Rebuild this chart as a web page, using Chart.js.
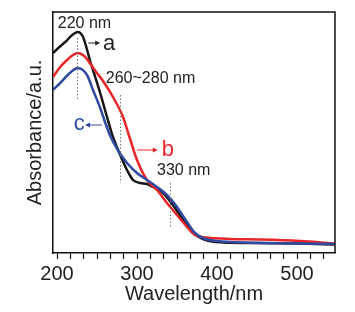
<!DOCTYPE html>
<html>
<head>
<meta charset="utf-8">
<script src="https://cdn.jsdelivr.net/npm/chart.js@4"></script>
<style>
  html, body { margin: 0; padding: 0; background: #fff; }
  #wrap { width: 355px; height: 312px; }
</style>
</head>
<body>
<div id="wrap"><canvas id="uv-chart" width="355" height="312"></canvas></div>
<script>
/* UV-vis absorption spectra, curves a / b / c */

// ---------------------------------------------------------------------------
// Data (y in arbitrary absorbance units)
// ---------------------------------------------------------------------------

const wavelengthA = [195, 203, 211, 219, 226, 232, 237, 241, 245, 254, 262.5, 270, 279, 287.5, 295, 304, 312.5, 320, 332.5, 345, 357.5, 370, 382.5, 397.5, 441, 504, 547.5];
const absorbA     = [200, 206, 211.5, 218, 221, 217, 205, 193, 183, 160, 136, 116, 98, 83, 73, 70, 69, 66, 60, 48, 33, 20, 14, 11, 10, 9.5, 8.5];

const wavelengthB = [195, 204, 212.5, 220, 226, 234, 241, 249, 257.5, 270, 282.5, 291, 300, 312.5, 325, 337.5, 350, 362.5, 372.5, 387.5, 416, 454, 504, 547.5];
const absorbB     = [176, 186, 193, 198, 200, 197, 190, 181, 172, 156, 136, 115, 93, 73, 63, 50, 38, 26, 18, 15.5, 14, 13.5, 12, 9.5];

const wavelengthC = [195, 204, 216, 226, 237.5, 245, 254, 260, 266, 276, 287.5, 300, 312.5, 325, 337.5, 350, 362.5, 372.5, 382.5, 391, 416, 466, 504, 547.5];
const absorbC     = [163, 170, 180, 185, 178, 163, 145, 131, 118, 103, 90, 80, 73, 66, 58, 46, 31, 20, 15, 13, 11, 10, 9.5, 9];

const majorTicks = [200, 300, 400, 500];
const minorStep = 100 / 6;

const FONT = "'Liberation Sans', Arial, Helvetica, sans-serif";

function toPoints(xs, ys) {
    return xs.map((x, i) => ({ x: x, y: ys[i] }));
}

// ---------------------------------------------------------------------------
// Annotation plugin: dotted guide lines, labels, arrows, frame
// ---------------------------------------------------------------------------

const annotations = {
    id: "annotations",
    afterDatasetsDraw(chart) {
        const c = chart.ctx;
        const xs = chart.scales.x;
        const ys = chart.scales.y;
        const X = (v) => xs.getPixelForValue(v);
        const Y = (v) => ys.getPixelForValue(v);
        const area = chart.chartArea;

        c.save();

        // dotted guide lines
        c.strokeStyle = "#777";
        c.lineWidth = 1;
        c.setLineDash([1.5, 2]);
        [[225, 215, 153], [279, 158, 70], [341, 70, 25]].forEach(([x, y0, y1]) => {
            c.beginPath();
            c.moveTo(Math.round(X(x)) + 0.5, Y(y0));
            c.lineTo(Math.round(X(x)) + 0.5, Y(y1));
            c.stroke();
        });
        c.setLineDash([]);

        // wavelength labels
        c.fillStyle = "#222";
        c.font = "16px " + FONT;
        c.textBaseline = "alphabetic";
        c.textAlign = "left";
        c.fillText("220 nm", X(201), Y(225));
        c.fillText("260~280 nm", X(261), Y(170));
        c.fillText("330 nm", X(325), Y(78));

        // arrows (from curve towards label) and curve letters
        function arrow(x0, x1, y, color) {
            const px0 = X(x0), px1 = X(x1), py = Y(y);
            const dir = px1 > px0 ? 1 : -1;
            c.strokeStyle = color;
            c.fillStyle = color;
            c.lineWidth = 1;
            c.beginPath();
            c.moveTo(px0, py);
            c.lineTo(px1 - dir * 4, py);
            c.stroke();
            c.beginPath();
            c.moveTo(px1, py);
            c.lineTo(px1 - dir * 5, py - 2.5);
            c.lineTo(px1 - dir * 5, py + 2.5);
            c.closePath();
            c.fill();
        }

        arrow(239, 254, 210, "#222");
        arrow(300, 326, 103, "#e8262a");
        arrow(256, 235, 128, "#2f4aa0");

        c.font = "22px " + FONT;
        c.fillStyle = "#222";
        c.fillText("a", X(257.5), Y(203));
        c.fillStyle = "#e8262a";
        c.fillText("b", X(331), Y(97));
        c.fillStyle = "#2f4aa0";
        c.fillText("c", X(221), Y(123));

        // top and right frame lines
        c.strokeStyle = "#111";
        c.lineWidth = 1.5;
        c.beginPath();
        c.moveTo(area.left, area.top);
        c.lineTo(area.right, area.top);
        c.lineTo(area.right, area.bottom);
        c.stroke();

        c.restore();
    },
};

// ---------------------------------------------------------------------------
// Chart setup
// ---------------------------------------------------------------------------

const ctx = document.getElementById("uv-chart").getContext("2d");
const uvChart = new Chart(ctx, {
    type: "line",
    data: {
        datasets: [
            {
                label: "a",
                data: toPoints(wavelengthA, absorbA),
                borderColor: "#161616",
                borderWidth: 2.5,
                pointRadius: 0,
                cubicInterpolationMode: "monotone",
                fill: false,
                order: 3,
            },
            {
                label: "b",
                data: toPoints(wavelengthB, absorbB),
                borderColor: "#e8262a",
                borderWidth: 2.5,
                pointRadius: 0,
                cubicInterpolationMode: "monotone",
                fill: false,
                order: 2,
            },
            {
                label: "c",
                data: toPoints(wavelengthC, absorbC),
                borderColor: "#2f4aa0",
                borderWidth: 2.5,
                pointRadius: 0,
                cubicInterpolationMode: "monotone",
                fill: false,
                order: 1,
            },
        ],
    },
    options: {
        responsive: false,
        animation: false,
        devicePixelRatio: 1,
        layout: { padding: { top: 12, right: 20, left: 0, bottom: 0 } },
        plugins: {
            legend: { display: false },
            tooltip: { enabled: false },
        },
        scales: {
            x: {
                type: "linear",
                min: 195,
                max: 547.5,
                afterBuildTicks: (scale) => {
                    const ticks = [];
                    for (let k = 0; k <= 20; k++) ticks.push({ value: 200 + k * minorStep });
                    scale.ticks = ticks;
                },
                afterFit: (scale) => { scale.height = 59; },
                ticks: {
                    autoSkip: false,
                    maxRotation: 0,
                    padding: 3,
                    color: "#222",
                    font: { family: FONT, size: 20 },
                    callback: (v) => {
                        const m = majorTicks.find((t) => Math.abs(t - v) < 1e-6);
                        return m === undefined ? "" : String(m);
                    },
                },
                grid: {
                    display: true,
                    drawOnChartArea: false,
                    drawTicks: true,
                    tickLength: 6,
                    tickColor: "#111",
                    tickWidth: 1.2,
                },
                border: { display: true, color: "#111", width: 1.5 },
                title: {
                    display: true,
                    text: "Wavelength/nm",
                    color: "#222",
                    font: { family: FONT, size: 20 },
                    padding: { top: 0, bottom: 6 },
                },
            },
            y: {
                min: 0,
                max: 241,
                afterFit: (scale) => { scale.width = 53; },
                ticks: { display: false },
                grid: { display: false },
                border: { display: true, color: "#111", width: 1.5 },
                title: {
                    display: true,
                    text: "Absorbance/a.u.",
                    color: "#222",
                    font: { family: FONT, size: 20 },
                    padding: { top: 23, bottom: 0 },
                },
            },
        },
    },
    plugins: [annotations],
});
</script>
</body>
</html>
